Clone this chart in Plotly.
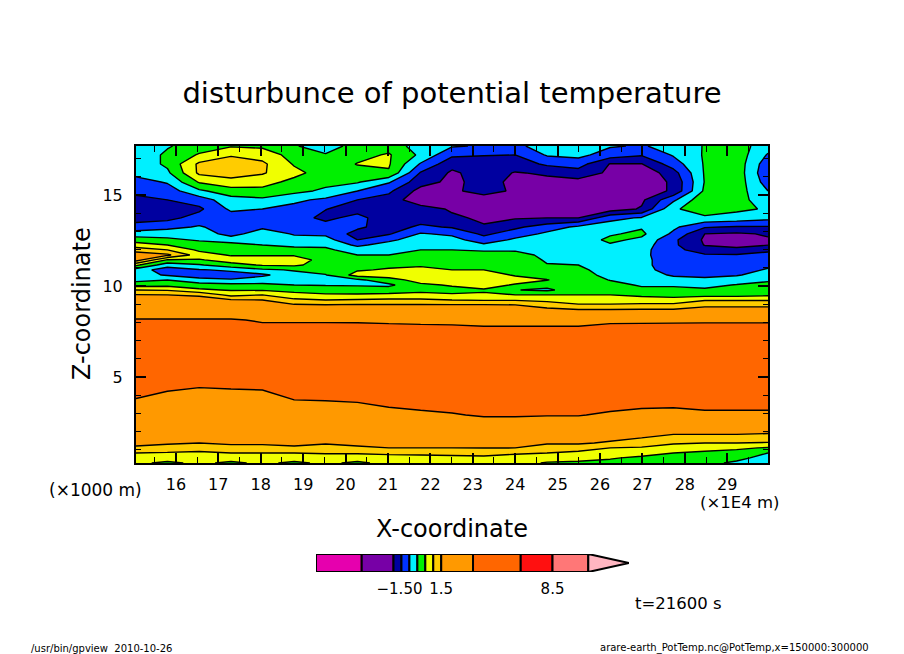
#!/usr/bin/python3
import numpy as np
import plotly.graph_objects as go

W = 904
H = 654
FONT = 'DejaVu Sans'

# x in 1E4 m, one entry per column of theta_cols
x_coord = [15.06, 15.8, 16.55, 17.3, 18.04, 18.79, 19.53, 20.28, 21.02, 21.77, 22.51,
           23.26, 24.0, 24.75, 25.49, 26.24, 26.98, 27.73, 28.47, 29.22, 29.96]
# z in km, top of the plot first
z_coord = [17.69, 17.2, 16.7, 16.21, 15.71, 15.22, 14.73, 14.23, 13.74, 13.24, 12.86, 12.53, 12.25,
           11.98, 11.7, 11.43, 11.15, 10.88, 10.6, 10.33, 10.05, 9.78, 9.51, 9.23, 8.96, 8.57,
           8.13, 7.03, 5.38, 4.56, 3.74, 2.91, 2.09, 1.65, 1.37, 1.1, 0.82, 0.55, 0.27]

# potential temperature disturbance, one list per x
theta_cols = [
    [-0.2, -0.35, -0.35, -0.35, -0.7, -0.8, -1.2, -1.4, -1.2, -0.8, -0.25, 0.25, 0.75, 1.25, 3.0, 2.5, 0.6, -0.25, -0.3, -0.15, 0.3, 1.0, 1.6, 2.5, 2.5, 2.5,
     3.7, 5, 5, 5, 3.4, 2.5, 2.3, 2.0, 1.8, 1.45, 1.0, 0.75, 0.6],
    [-0.05, 0.1, 0.1, -0.1, -0.45, -0.75, -1.0, -1.25, -1.15, -0.65, -0.2, 0.1, 0.5, 1.0, 1.9, 0.45, -0.3, -0.75, -0.55, 0, 0.35, 0.95, 1.5, 2.5, 2.5, 2.5,
     3.7, 5, 5, 4.5, 2.6, 2.5, 2.2, 2.0, 1.7, 1.35, 0.95, 0.75, 0.4],
    [0.25, 0.55, 1.1, 1.1, 0.55, -0.1, -0.75, -1.1, -0.8, -0.45, -0.2, -0.05, 0.2, 0.4, 0.75, 0.45, -0.05, -0.55, -0.8, -0.3, 0.2, 0.6, 1.4, 2.5, 2.5, 2.5,
     3.7, 5, 4.8, 3.8, 2.6, 2.5, 2.1, 1.75, 1.5, 1.25, 0.9, 0.75, 0.6],
    [0.45, 0.95, 1.25, 1.25, 0.8, 0.3, -0.2, -0.4, -0.75, -0.75, -0.7, -0.2, 0.15, 0.3, 0.45, 0.75, 0.3, -0.4, -0.75, -0.45, 0.15, 0.45, 0.85, 1.7, 2.5, 2.5,
     3.7, 5, 5, 4.0, 2.6, 2.5, 2.2, 2.0, 1.7, 1.4, 1.0, 0.75, 0.4],
    [0.4, 0.8, 1.1, 1.05, 0.7, 0.35, -0.1, -0.5, -0.7, -0.6, -0.2, -0.1, 0, 0.2, 0.45, 0.75, 0.55, -0.1, -0.6, -0.25, 0.1, 0.45, 1.0, 1.5, 2.5, 2.5,
     3.35, 5, 5, 4.2, 2.6, 2.5, 2.2, 2.0, 1.7, 1.4, 1.0, 0.75, 0.6],
    [0.05, 0.3, 0.45, 0.65, 0.35, 0.15, -0.4, -0.65, -0.75, -0.7, -0.55, -0.3, -0.1, 0.15, 0.45, 0.75, 0.6, 0.05, -0.2, -0.3, 0, 0.35, 0.65, 1.1, 1.7, 2.5,
     3.35, 5, 5, 4.8, 3.5, 2.5, 2.3, 2.1, 1.8, 1.45, 1.0, 0.75, 0.4],
    [-0.3, 0.05, 0.25, 0.25, 0.15, -0.1, -0.6, -0.98, -1.15, -0.75, -0.6, -0.3, -0.1, 0.1, 0.25, 0.3, 0.25, 0.15, -0.02, -0.25, -0.03, 0.3, 0.55, 1.0, 1.55, 2.5,
     3.35, 5, 5, 4.6, 3.6, 2.5, 2.2, 2.0, 1.65, 1.35, 1.05, 0.75, 0.6],
    [0.25, 0.35, 0.52, 0.35, 0.05, -0.5, -1.0, -1.25, -0.8, -0.9, -1.2, -1.0, -0.6, -0.25, 0, 0.2, 0.3, 0.45, 0.7, -0.1, -0.05, 0.25, 0.55, 1.05, 1.7, 2.5,
     3.35, 4.9, 5, 4.5, 3.8, 2.5, 2.2, 2.0, 1.8, 1.45, 1.05, 0.75, 0.4],
    [0.3, 0.55, 0.55, 0.45, -0.45, -0.9, -1.2, -1.4, -1.4, -1.25, -1.05, -0.6, -0.3, -0.15, 0, 0.2, 0.4, 0.55, 0.75, 0.3, -0.1, 0.25, 0.6, 1.1, 1.6, 2.5,
     3.35, 4.5, 5, 5, 4.5, 2.8, 2.2, 2.0, 1.8, 1.5, 1.1, 0.8, 0.65],
    [-0.25, -0.1, -0.55, -1.05, -1.3, -2.2, -3.0, -1.25, -1.25, -0.9, -0.45, -0.25, -0.1, 0, 0.1, 0.3, 0.45, 0.6, 0.75, 0.7, 0.4, 0.4, 0.6, 1.1, 1.6, 2.5,
     3.35, 4.3, 5, 5, 4.5, 3.2, 2.3, 2.0, 1.8, 1.5, 1.1, 0.85, 0.7],
    [-0.45, -0.9, -1.35, -1.8, -2, -2.1, -2.1, -1.8, -1.4, -1.05, -0.6, -0.3, -0.15, 0, 0.1, 0.3, 0.4, 0.5, 0.75, 0.8, 0.55, 0.35, 0.55, 1.0, 1.6, 2.5,
     3.35, 4.2, 5, 5, 4.5, 3.4, 2.3, 2.0, 1.8, 1.5, 1.15, 0.85, 0.7],
    [-0.55, -0.98, -1.2, -1.3, -1.3, -1.2, -3.0, -2, -1.9, -1.45, -1.1, -0.8, -0.4, -0.03, 0.1, 0.3, 0.4, 0.5, 0.75, 0.8, 0.7, 0.45, 0.55, 0.95, 1.6, 2.5,
     3.35, 4, 5, 5, 4.5, 3.7, 2.5, 2.1, 1.85, 1.55, 1.15, 0.9, 0.7],
    [-0.6, -1.0, -1.3, -1.6, -2, -2, -2.1, -2, -1.7, -1.1, -0.75, -0.4, -0.25, -0.05, 0.15, 0.25, 0.3, 0.35, 0.45, 0.7, 0.45, 0.02, 0.5, 0.95, 1.5, 2.5,
     3.35, 4, 5, 5, 4.5, 3.7, 2.5, 2.1, 1.8, 1.5, 1.05, 0.85, 0.7],
    [-0.3, -0.45, -0.9, -1.45, -1.9, -2, -2, -2, -1.5, -0.75, -0.4, -0.3, -0.25, -0.15, -0.1, -0.05, 0.02, 0.15, 0.25, 0.52, 0.2, -0.1, 0.5, 0.85, 1.3, 2.5,
     3.35, 4, 5, 5, 4.5, 3.6, 2.5, 2.1, 1.65, 1.35, 1.0, 0.75, 0.45],
    [-0.3, -0.35, -0.8, -1.2, -2.2, -2, -2, -2, -1.5, -0.4, -0.25, -0.25, -0.25, -0.2, -0.15, -0.1, 0, 0.1, 0.2, 0.25, 0.25, 0.3, 0.5, 0.7, 1.05, 2.5,
     3.35, 4, 5, 5, 4.5, 3.6, 2.5, 2.0, 1.7, 1.3, 0.85, 0.7, 0.4],
    [-0.45, -0.75, -1.6, -1.9, -2, -2, -2, -2.5, -0.65, -0.25, -0.05, 0.1, -0.05, -0.2, -0.3, -0.3, -0.25, -0.2, -0.15, -0.02, 0.15, 0.25, 0.5, 0.7, 1.05, 2.5,
     3.35, 4.5, 5, 5, 4.5, 3.3, 2.4, 1.9, 1.45, 1.0, 0.8, 0.55, 0.35],
    [-0.55, -0.95, -1.6, -3.0, -3.0, -3.0, -1.9, -1.45, -0.45, -0.05, 0.1, -0.1, -0.25, -0.35, -0.4, -0.4, -0.4, -0.35, -0.3, -0.2, -0.05, 0.1, 0.4, 0.7, 1.1, 2.5,
     3.35, 4.6, 5, 5, 4.5, 3.0, 2.2, 1.5, 1.25, 0.95, 0.7, 0.4, 0.3],
    [-0.3, -0.45, -0.75, -1.2, -1.4, -1.4, -0.6, -0.08, -0.1, -0.4, -0.6, -0.9, -0.9, -0.85, -0.75, -0.7, -0.7, -0.7, -0.55, -0.35, -0.05, 0.1, 0.3, 0.7, 1.1, 2.5,
     3.35, 4.7, 5, 5, 4.5, 2.9, 2.0, 1.4, 1.05, 0.8, 0.5, 0.35, 0.2],
    [0.03, 0.05, 0.05, 0.05, 0.03, 0.1, 0.4, 0.3, -0.1, -0.95, -1.5, -1.8, -1.6, -1.25, -0.95, -0.8, -0.75, -0.7, -0.6, -0.4, -0.1, 0.05, 0.3, 0.95, 1.4, 2.5,
     3.35, 4.8, 5, 5, 4.5, 3.2, 2.0, 1.4, 1.0, 0.7, 0.4, 0.3, 0.15],
    [0.25, 0.3, 0.3, 0.3, 0.3, 0.25, 0.2, 0.1, -0.2, -1.05, -1.8, -2, -1.9, -1.4, -0.95, -0.8, -0.75, -0.7, -0.55, -0.2, 0.02, 0.1, 0.3, 0.95, 1.4, 2.5,
     3.35, 4.8, 5, 5, 4.5, 3.2, 2.0, 1.4, 1.0, 0.6, 0.3, 0.15, -0.1],
    [-0.3, -0.55, -0.8, -0.9, -0.75, -0.5, -0.3, -0.05, -0.35, -1.05, -1.45, -1.7, -1.55, -1.1, -0.85, -0.75, -0.6, -0.45, -0.25, -0.05, 0.1, 0.25, 0.4, 0.95, 1.4, 2.5,
     3.35, 4.8, 5, 5, 4.5, 3.2, 2.0, 1.35, 0.95, 0.45, 0, -0.2, -0.3],
]

# tone levels of the colour bar and the colour of each band
tone_levels = [-6.375, -3.5, -1.5, -1.0, -0.5, 0.0, 0.5, 1.0, 1.5, 3.5, 6.5, 8.5, 10.75]
tone_colors = ['#E600AE', '#7700A6', '#0000A0', '#0033FF', '#00F0FF', '#00F000', '#F0FF00',
               '#FFCC00', '#FF9900', '#FF6600', '#FF1010', '#FF7777', '#FFB6C1']
bar_tick_vals = [-1.125, 1.5, 8.5]
bar_tick_text = ['\u22121.50', '1.5', '8.5']
bar_tip = 13.31

x_ticks = list(range(16, 30))
z_ticks = [5, 10, 15]

theta = np.array(theta_cols).T
# levels are not evenly spaced, so contour on the level number
level_no = np.interp(theta, tone_levels, np.arange(len(tone_levels)))[::-1]
n_band = len(tone_colors)
# plotly reads the band above level k at the scale position (k+1)/n, so centre each block there
scale = []
for i, c in enumerate(tone_colors):
    scale += [[max(0, (i + 0.5) / n_band), c], [min(1, (i + 1.5) / n_band), c]]
scale[0][0] = 0

fig = go.Figure()
fig.add_trace(go.Contour(
    x=x_coord,
    y=z_coord[::-1],
    z=level_no,
    zmin=0,
    zmax=n_band,
    colorscale=scale,
    showscale=False,
    autocontour=False,
    contours=dict(start=0, end=n_band - 1, size=1, coloring='fill'),
    line=dict(color='black', width=1.4, smoothing=0),
    hoverinfo='skip'
    )
)

# colour bar, drawn on its own value axis
fig.add_trace(go.Bar(
    y=[0] * (n_band - 1),
    x=np.diff(tone_levels),
    base=tone_levels[:-1],
    width=1,
    orientation='h',
    marker=dict(color=tone_colors[:-1], line=dict(color='black', width=2)),
    xaxis='x2',
    yaxis='y2',
    hoverinfo='skip'
    )
)
fig.add_trace(go.Scatter(
    x=[tone_levels[-1], bar_tip, tone_levels[-1], tone_levels[-1]],
    y=[0.5, 0, -0.5, 0.5],
    mode='lines',
    fill='toself',
    fillcolor=tone_colors[-1],
    line=dict(color='black', width=2),
    xaxis='x2',
    yaxis='y2',
    hoverinfo='skip'
    )
)

fig.update_layout(
    width=W,
    height=H,
    margin=dict(l=0, r=0, t=0, b=0),
    paper_bgcolor='white',
    plot_bgcolor='white',
    showlegend=False,
    font=dict(family=FONT, color='black', size=16),
    title=dict(
        text='disturbunce of potential temperature',
        x=452 / W, y=1 - 93 / H, xanchor='center', yanchor='middle',
        font=dict(family=FONT, size=29, color='black')
        ),
    xaxis=dict(
        domain=[136 / W, 768 / W],
        range=[15.06, 29.96],
        tickvals=x_ticks,
        ticks='inside', ticklen=10, tickwidth=2, tickcolor='black',
        ticklabelstandoff=6,
        minor=dict(dtick=0.5, tick0=15, ticks='inside', ticklen=6, tickwidth=1, tickcolor='black'),
        showline=True, linecolor='black', linewidth=2, mirror='ticks',
        showgrid=False, zeroline=False
        ),
    yaxis=dict(
        domain=[1 - 463 / H, 1 - 146 / H],
        range=[0.27, 17.69],
        tickvals=z_ticks,
        ticks='inside', ticklen=10, tickwidth=2, tickcolor='black',
        ticklabelstandoff=8,
        minor=dict(dtick=1, tick0=0, ticks='inside', ticklen=5, tickwidth=1, tickcolor='black'),
        showline=True, linecolor='black', linewidth=2, mirror='ticks',
        showgrid=False, zeroline=False
        ),
    xaxis2=dict(
        domain=[316 / W, 629 / W],
        range=[tone_levels[0], bar_tip],
        anchor='y2',
        tickvals=bar_tick_vals,
        ticktext=bar_tick_text,
        ticks='',
        ticklabelstandoff=6,
        tickfont=dict(size=15),
        showline=False, showgrid=False, zeroline=False
        ),
    yaxis2=dict(
        domain=[1 - 572 / H, 1 - 554 / H],
        range=[-0.5, 0.5],
        anchor='x2',
        visible=False
        )
)

notes = [
    ('X-coordinate', 452, 529, 24, 0),
    ('Z-coordinate', 82, 304, 24, -90),
    ('(\u00d71000 m)', 95, 490, 17, 0),
    ('(\u00d71E4 m)', 739, 502, 16.5, 0),
    ('t=21600 s', 678, 603, 16.5, 0),
    ('/usr/bin/gpview\u00a0\u00a02010-10-26', 101, 648, 10, 0),
    ('arare-earth_PotTemp.nc@PotTemp,x=150000:300000', 734, 648, 10, 0),
]
for text, px, py, size, angle in notes:
    fig.add_annotation(
        text=text, x=px / W, y=1 - py / H, xref='paper', yref='paper',
        xanchor='center', yanchor='middle', showarrow=False, textangle=angle,
        font=dict(family=FONT, size=size, color='black')
    )

# the page's default body margin would push the figure off its place
fig.write_html('out.html', config=dict(displayModeBar=False),
               post_script="document.body.style.margin='0';")
